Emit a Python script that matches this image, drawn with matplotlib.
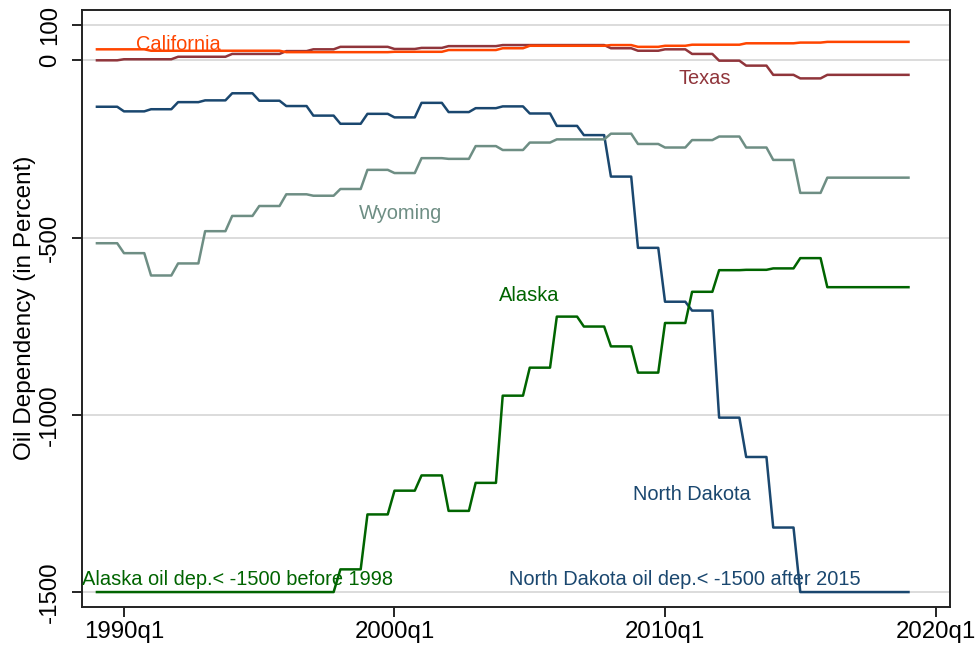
import numpy as np
import matplotlib
matplotlib.use('Agg')
import matplotlib.pyplot as plt

plt.rcParams['font.family'] = ['Liberation Sans', 'DejaVu Sans']

# annual values 1989..2019, held constant within each year (quarterly data)
years = np.arange(1989, 2020)
california = [31, 31, 27, 27, 27, 27, 27, 23, 23, 23, 23, 24, 24, 29, 29, 34,
              41, 41, 41, 43, 38, 41, 44, 44, 48, 48, 50, 52, 52, 52, 52]
texas = [0, 3, 3, 10, 10, 18, 18, 26, 31, 38, 38, 32, 35, 40, 40, 43,
         43, 43, 43, 34, 27, 31, 18, -1, -15, -41, -51, -41, -41, -41, -41]
north_dakota = [-131, -144, -138, -118, -113, -93, -114, -129, -156, -179, -151,
                -161, -120, -146, -135, -130, -150, -185, -211, -328, -529, -681,
                -706, -1008, -1119, -1318, -1500, -1500, -1500, -1500, -1500]
wyoming = [-516, -544, -607, -573, -482, -439, -411, -378, -382, -363, -309,
           -318, -276, -278, -242, -253, -232, -223, -223, -207, -236, -246,
           -225, -215, -246, -281, -374, -331, -331, -331, -331]
alaska = [-1500, -1500, -1500, -1500, -1500, -1500, -1500, -1500, -1500, -1436,
          -1281, -1214, -1171, -1271, -1192, -946, -867, -723, -751, -807, -881,
          -741, -653, -592, -591, -587, -558, -640, -640, -640, -640]

n_q = 121  # 1989q1 .. 2019q1
t = 1989 + np.arange(n_q) / 4.0

def quarterly(v):
    return np.repeat(np.asarray(v, dtype=float), 4)[:n_q]

c_cal = '#ff4500'
c_tex = '#90353b'
c_nd = '#1a476f'
c_wy = '#6e8e84'
c_ak = '#006400'

fig = plt.figure(figsize=(9.77, 6.47), dpi=100)
ax = fig.add_axes([0.0839, 0.0618, 0.8885, 0.9235])

for yv in [100, 0, -500, -1000, -1500]:
    ax.axhline(yv, color='#dcdcdc', lw=1.4, zorder=0)

lw = 1.8
ax.plot(t, quarterly(north_dakota), color=c_nd, lw=lw)
ax.plot(t, quarterly(wyoming), color=c_wy, lw=lw)
ax.plot(t, quarterly(alaska), color=c_ak, lw=lw)
ax.plot(t, quarterly(texas), color=c_tex, lw=lw)
ax.plot(t, quarterly(california), color=c_cal, lw=lw)

fs = 14.4
ax.text(1992.01, 29, 'California', color=c_cal, fontsize=fs, ha='center', va='baseline')
ax.text(2011.48, -68, 'Texas', color=c_tex, fontsize=fs, ha='center', va='baseline')
ax.text(2000.24, -449, 'Wyoming', color=c_wy, fontsize=fs, ha='center', va='baseline')
ax.text(2004.99, -680, 'Alaska', color=c_ak, fontsize=fs, ha='center', va='baseline')
ax.text(2010.98, -1239, 'North Dakota', color=c_nd, fontsize=fs, ha='center', va='baseline')
ax.text(1994.21, -1479, 'Alaska oil dep.< -1500 before 1998', color=c_ak, fontsize=fs,
        ha='center', va='baseline')
ax.text(2010.74, -1479, 'North Dakota oil dep.< -1500 after 2015', color=c_nd, fontsize=fs,
        ha='center', va='baseline')

ax.set_xlim(1988.447, 2020.536)
ax.set_ylim(-1542.2, 143.3)

ax.set_xticks([1990, 2000, 2010, 2020])
ax.set_xticklabels(['1990q1', '2000q1', '2010q1', '2020q1'])
ax.set_yticks([100, 0, -500, -1000, -1500])
ax.set_yticklabels(['100', '0', '-500', '-1000', '-1500'], rotation=90, va='center')

ax.tick_params(axis='both', direction='out', length=7, width=1.2, labelsize=17.3, colors='black')
ax.tick_params(axis='y', pad=8)
ax.tick_params(axis='x', pad=3)

ax.set_ylabel('Oil Dependency (in Percent)', fontsize=17.5)
ax.yaxis.set_label_coords(-0.053, 0.5)

for s in ax.spines.values():
    s.set_linewidth(1.4)
    s.set_color('#222222')

fig.savefig('out.png', dpi=100)
